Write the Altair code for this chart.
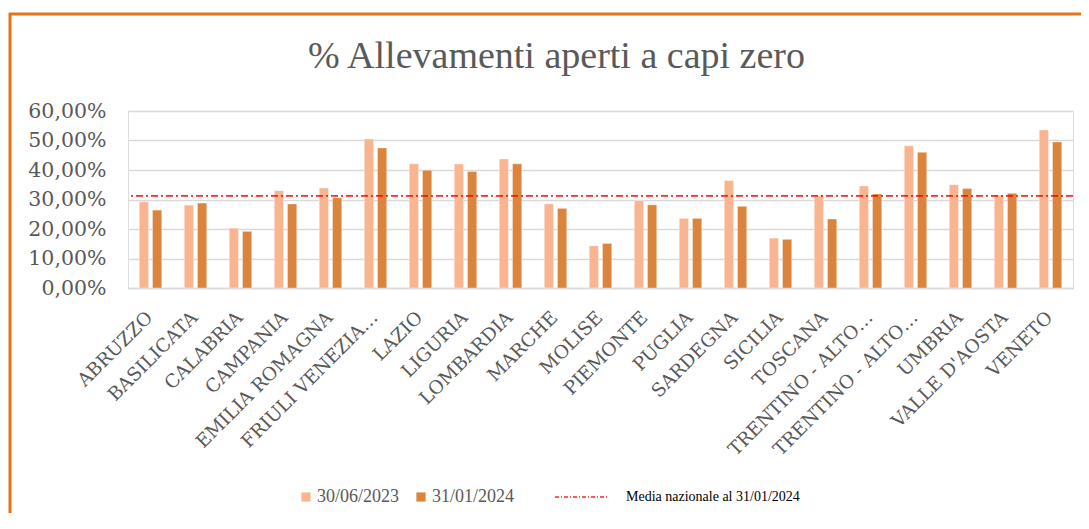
import altair as alt
import pandas as pd

regions = ["ABRUZZO", "BASILICATA", "CALABRIA", "CAMPANIA", "EMILIA ROMAGNA",
           "FRIULI VENEZIA GIULIA", "LAZIO", "LIGURIA", "LOMBARDIA", "MARCHE",
           "MOLISE", "PIEMONTE", "PUGLIA", "SARDEGNA", "SICILIA", "TOSCANA",
           "TRENTINO - ALTO ADIGE (BOLZANO)", "TRENTINO - ALTO ADIGE (TRENTO)",
           "UMBRIA", "VALLE D'AOSTA", "VENETO"]
v_2023 = [29.2, 28.1, 20.3, 33.0, 33.9, 50.5, 42.1, 42.0, 43.7, 28.5, 14.3,
          29.6, 23.6, 36.4, 16.9, 31.3, 34.6, 48.2, 35.0, 31.4, 53.6]
v_2024 = [26.4, 28.8, 19.2, 28.5, 30.6, 47.5, 39.9, 39.5, 42.1, 27.0, 15.1,
          28.2, 23.6, 27.7, 16.5, 23.4, 31.9, 46.0, 33.7, 32.1, 49.5]
series = ["30/06/2023", "31/01/2024"]
y_ticks = [0, 10, 20, 30, 40, 50, 60]
media_label = "Media nazionale  al 31/01/2024"
media_value = 31.2

rows = []
for r, a, b in zip(regions, v_2023, v_2024):
    rows.append({"regione": r, "serie": series[0], "valore": a})
    rows.append({"regione": r, "serie": series[1], "valore": b})
df = pd.DataFrame(rows)
media_df = pd.DataFrame({"serie_m": [media_label], "valore": [media_value]})

AXFONT = "DejaVu Serif"
FONT = "Liberation Serif"
GREY = "#595959"

label_expr = ("indexof(datum.label, 'TRENTINO') >= 0 ? 'TRENTINO - ALTO…' : "
              "datum.label == 'FRIULI VENEZIA GIULIA' ? 'FRIULI VENEZIA…' : datum.label")

bars = alt.Chart(df).mark_bar(stroke="white", strokeWidth=0.6, strokeOpacity=0.6).encode(
    x=alt.X("regione:N", sort=regions, title=None,
            scale=alt.Scale(paddingInner=0.5, paddingOuter=0.25),
            axis=alt.Axis(labelAngle=-45, labelAlign="right", labelBaseline="middle",
                          labelFont=AXFONT, labelFontSize=18.5, labelColor=GREY,
                          labelPadding=26, labelOffset=-1, ticks=False,
                          domainColor="#D9D9D9", domainWidth=1.5,
                          labelExpr=label_expr, labelLimit=300, labelOverlap=False)),
    xOffset=alt.XOffset("serie:N", sort=series,
                        scale=alt.Scale(paddingInner=0.3, paddingOuter=0)),
    y=alt.Y("valore:Q", title=None,
            scale=alt.Scale(domain=[0, 60], nice=False),
            axis=alt.Axis(values=y_ticks, tickCount=7, domain=False, ticks=False,
                          labelFont=AXFONT, labelFontSize=20.5, labelColor=GREY,
                          labelPadding=22, gridColor="#D9D9D9", gridWidth=1.5,
                          labelOverlap=False,
                          labelExpr="replace(format(datum.value, '.2f'), '.', ',') + '%'")),
    color=alt.Color("serie:N", sort=series, title=None,
                    scale=alt.Scale(domain=series, range=["#F8B590", "#DB843D"]),
                    legend=alt.Legend(orient="none", legendX=169, legendY=377,
                                      direction="horizontal", symbolType="square",
                                      symbolSize=85, symbolStrokeWidth=0,
                                      labelFont=FONT, labelFontSize=18, labelColor=GREY,
                                      labelOffset=2, columnPadding=12)),
)

media = alt.Chart(media_df).mark_rule(strokeWidth=1.8, strokeDash=[7, 3, 2, 3],
                                      opacity=0.85).encode(
    y="valore:Q",
    stroke=alt.Stroke("serie_m:N", title=None,
                      scale=alt.Scale(domain=[media_label], range=["#FF0000"]),
                      legend=alt.Legend(orient="none", legendX=426, legendY=358,
                                        symbolType="stroke", symbolSize=2916,
                                        symbolStrokeWidth=1.5, symbolDash=[4, 2, 1, 2],
                                        labelFont=FONT, labelFontSize=14,
                                        labelColor="#000000", labelOffset=16,
                                        labelLimit=500)),
)

frame_data = alt.Data(values=[{"k": 1}])
top_line = alt.Chart(frame_data).mark_rule(color="#E8731A", strokeWidth=3).encode(
    x=alt.value(-119), x2=alt.value(960), y=alt.value(-97))
left_line = alt.Chart(frame_data).mark_rule(color="#E8731A", strokeWidth=3).encode(
    x=alt.value(-118), y=alt.value(-98), y2=alt.value(430))

chart = alt.layer(bars, media, top_line, left_line).resolve_scale(
    color="independent", stroke="independent"
).properties(
    width=945, height=177,
    padding={"left": 120, "top": 103, "right": 8, "bottom": 225},
    autosize=alt.AutoSizeParams(type="none"),
    title=alt.TitleParams("% Allevamenti aperti a capi zero", font=FONT,
                          fontSize=38, fontWeight="normal", color=GREY,
                          anchor="middle", frame="group", offset=-64, dx=-44),
).configure_view(stroke=None).configure(background="white")

chart.save("out.html", embed_options={"renderer": "svg", "actions": False})
